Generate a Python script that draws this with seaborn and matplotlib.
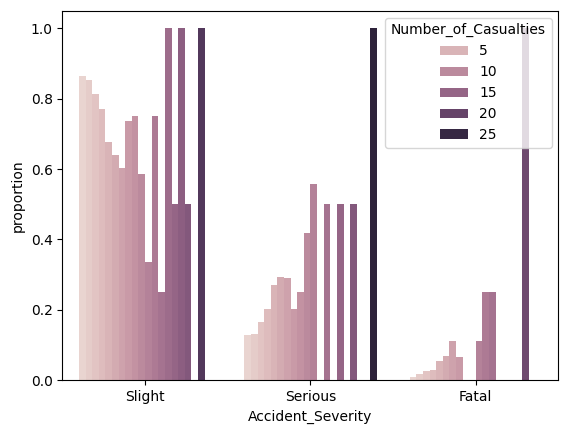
import pandas as pd
import matplotlib
matplotlib.use("Agg")
import matplotlib.pyplot as plt
import seaborn as sns

# Hue levels (Number_of_Casualties) in sorted order
casualties = [1, 2, 3, 4, 5, 6, 7, 8, 9, 10, 11, 12, 13, 14, 15, 16, 17, 19, 22, 26]

# Proportion of each severity within each casualty count
slight = [0.864, 0.853, 0.813, 0.771, 0.677, 0.640, 0.604, 0.736, 0.751, 0.586,
          0.336, 0.751, 0.251, 1.0, 0.5, 1.0, 0.5, 0.0, 1.0, 0.0]
serious = [0.128, 0.131, 0.165, 0.202, 0.270, 0.293, 0.290, 0.202, 0.250, 0.418,
           0.557, 0.0, 0.5, 0.0, 0.5, 0.0, 0.5, 0.0, 0.0, 1.0]
fatal = [0.010, 0.018, 0.025, 0.029, 0.055, 0.068, 0.110, 0.065, 0.0, 0.0,
         0.110, 0.25, 0.25, 0.0, 0.0, 0.0, 0.0, 1.0, 0.0, 0.0]

severities = ["Slight", "Serious", "Fatal"]

rows = []
for sev, vals in zip(severities, [slight, serious, fatal]):
    for n, p in zip(casualties, vals):
        if p > 0:
            rows.append({"Accident_Severity": sev, "Number_of_Casualties": n, "proportion": p})
df = pd.DataFrame(rows)

fig = plt.figure(figsize=(5.67, 4.33), dpi=100)
ax = fig.add_axes([0.11, 0.122, 0.875, 0.853])
sns.barplot(data=df, x="Accident_Severity", y="proportion", hue="Number_of_Casualties",
            order=severities, ax=ax)
sns.move_legend(ax, "upper right")
fig.savefig("out.png", dpi=100)
